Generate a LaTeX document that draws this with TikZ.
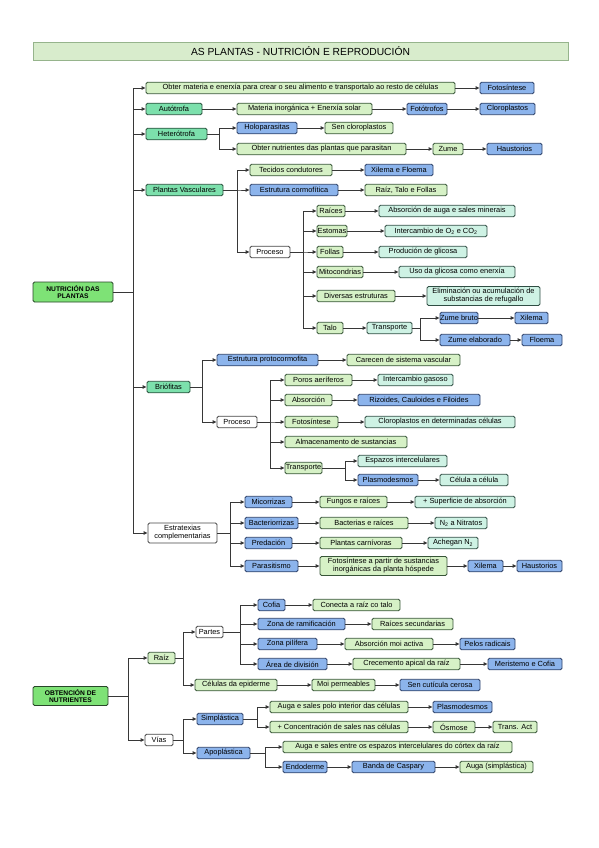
\documentclass[tikz,border=0pt]{standalone}
\usepackage{fontspec}
\setmainfont{Liberation Sans}
\usetikzlibrary{arrows.meta}
\definecolor{lgF}{RGB}{214,241,198}
\definecolor{lgD}{RGB}{55,85,55}
\definecolor{mtF}{RGB}{206,242,228}
\definecolor{mtD}{RGB}{48,78,68}
\definecolor{mdF}{RGB}{124,224,172}
\definecolor{mdD}{RGB}{40,80,60}
\definecolor{blF}{RGB}{140,180,236}
\definecolor{blD}{RGB}{45,65,105}
\definecolor{whD}{RGB}{70,70,70}
\definecolor{rtF}{RGB}{126,226,118}
\definecolor{rtD}{RGB}{40,70,40}
\definecolor{tiF}{RGB}{216,236,204}
\definecolor{tiD}{RGB}{150,180,140}
\definecolor{lnC}{RGB}{55,55,55}
\tikzset{
 box/.style={draw, rounded corners=1.5pt, line width=0.9pt, inner sep=0pt, font=\fontsize{7.4}{8}\selectfont, align=center},
 lg/.style={box, fill=lgF, draw=lgD},
 mt/.style={box, fill=mtF, draw=mtD},
 md/.style={box, fill=mdF, draw=mdD},
 bl/.style={box, fill=blF, draw=blD},
 wh/.style={box, fill=white, draw=whD},
 rt/.style={box, fill=rtF, draw=rtD, font=\bfseries\fontsize{6.7}{7.6}\selectfont},
 titlebox/.style={draw=tiD, fill=tiF, line width=0.8pt, inner sep=0pt, font=\fontsize{10.3}{12}\selectfont},
 arr/.style={draw=lnC, line width=0.9pt, -{Triangle[length=4pt,width=3.6pt]}},
}
\newcommand{\bx}[7][11.5]{\node[#3, minimum width={(#5-#4)*1pt}, minimum height=#1pt] (#2) at ({(#4+#5)/2},#6) {#7};}
\newcommand{\hh}[2]{\draw[arr] (#1.east) -- (#2.west);}
\newcommand{\tr}[3]{\coordinate (tmpb) at (#2,0); \draw[arr] (#1.east) -- (#1.east -| tmpb) |- (#3.west);}
\begin{document}
\begin{tikzpicture}[x=1pt,y=-1pt]
\useasboundingbox (0,0) rectangle (599,848);
\node[titlebox, minimum width=535pt, minimum height=18pt] (T) at (300.5,51.5) {AS PLANTAS - NUTRICIÓN E REPRODUCIÓN};
% ---------- NUTRICION
\bx[20]{N0}{rt}{33}{113}{292}{NUTRICIÓN DAS\\PLANTAS}
\bx{a1}{lg}{146}{455}{88}{Obter materia e enerxía para crear o seu alimento e transportalo ao resto de células}
\bx{a1f}{bl}{480}{534}{88}{Fotosíntese}
\bx{a2}{md}{146}{202}{109}{Autótrofa}
\bx{a2a}{lg}{237}{372}{109}{Materia inorgánica + Enerxía solar}
\bx{a2b}{bl}{407}{447}{109}{Fotótrofos}
\bx{a2c}{bl}{480}{535}{109}{Cloroplastos}
\bx{a3}{md}{146}{207}{134}{Heterótrofa}
\bx{a3a}{bl}{237}{297}{128}{Holoparasitas}
\bx{a3b}{lg}{325}{393}{128}{Sen cloroplastos}
\bx{a3c}{lg}{237}{406}{149}{Obter nutrientes das plantas que parasitan}
\bx{a3d}{lg}{433}{463}{149}{Zume}
\bx{a3e}{bl}{487}{542}{149}{Haustorios}
\bx{a4}{md}{146}{223}{190}{Plantas Vasculares}
\bx{a4a}{lg}{250}{332}{170}{Tecidos condutores}
\bx{a4b}{bl}{365}{433}{170}{Xilema e Floema}
\bx{a4c}{bl}{250}{338}{190}{Estrutura cormofítica}
\bx{a4d}{lg}{365}{447}{190}{Raíz, Talo e Follas}
\bx{a4e}{wh}{250}{290}{252}{Proceso}
\bx{p1}{lg}{317}{345}{211}{Raíces}
\bx{p1a}{mt}{379}{515}{211}{Absorción de auga e sales minerais}
\bx{p2}{lg}{317}{347}{231}{Estomas}
\bx{p2a}{mt}{385}{487}{231}{Intercambio de O\textsubscript{2} e CO\textsubscript{2}}
\bx{p3}{lg}{317}{343}{252}{Follas}
\bx{p3a}{mt}{379}{467}{252}{Produción de glicosa}
\bx{p4}{lg}{317}{363}{272}{Mitocondrias}
\bx{p4a}{mt}{399}{515}{272}{Uso da glicosa como enerxía}
\bx{p5}{lg}{317}{395}{296}{Diversas estruturas}
\bx[19]{p5a}{mt}{427}{540}{296}{Eliminación ou acumulación de\\substancias de refugallo}
\bx{p6}{lg}{317}{343}{328}{Talo}
\bx{p6a}{mt}{367}{412}{328}{Transporte}
\bx{t1}{bl}{440}{478}{318}{Zume bruto}
\bx{t1a}{bl}{515}{548}{318}{Xilema}
\bx{t2}{bl}{440}{510}{340}{Zume elaborado}
\bx{t2a}{bl}{522}{562}{340}{Floema}
\bx{a5}{md}{147}{190}{387}{Briófitas}
\bx{b1}{bl}{217}{318}{360}{Estrutura protocormofita}
\bx{b1a}{lg}{347}{460}{360}{Carecen de sistema vascular}
\bx{b2}{wh}{217}{257}{422}{Proceso}
\bx{b21}{lg}{285}{352}{380}{Poros aeríferos}
\bx{b21a}{mt}{378}{453}{380}{Intercambio gasoso}
\bx{b22}{lg}{285}{332}{400}{Absorción}
\bx{b22a}{bl}{358}{480}{400}{Rizoides, Cauloides e Filoides}
\bx{b23}{lg}{285}{338}{422}{Fotosíntese}
\bx{b23a}{mt}{365}{515}{422}{Cloroplastos en determinadas células}
\bx{b24}{lg}{285}{407}{442}{Almacenamento de sustancias}
\bx{b25}{lg}{285}{322}{468}{Transporte}
\bx{b25a}{mt}{358}{447}{461}{Espazos intercelulares}
\bx{b25b}{bl}{358}{418}{480}{Plasmodesmos}
\bx{b25c}{mt}{440}{508}{480}{Célula a célula}
\bx[20]{a6}{wh}{148}{217}{533}{Estratexias\\complementarias}
\bx{e1}{bl}{245}{292}{502}{Micorrizas}
\bx{e1a}{lg}{320}{387}{502}{Fungos e raíces}
\bx{e1b}{mt}{415}{515}{502}{+ Superficie de absorción}
\bx{e2}{bl}{245}{298}{523}{Bacteriorrizas}
\bx{e2a}{lg}{320}{408}{523}{Bacterias e raíces}
\bx{e2b}{mt}{435}{487}{523}{N\textsubscript{2} a Nitratos}
\bx{e3}{bl}{245}{292}{543}{Predación}
\bx{e3a}{lg}{320}{402}{543}{Plantas carnívoras}
\bx{e3b}{mt}{428}{478}{543}{Achegan N\textsubscript{2}}
\bx{e4}{bl}{245}{298}{566}{Parasitismo}
\bx[19]{e4a}{lg}{320}{447}{566}{Fotosíntese a partir de sustancias\\inorgánicas da planta hóspede}
\bx{e4b}{bl}{468}{503}{566}{Xilema}
\bx{e4c}{bl}{517}{562}{566}{Haustorios}
% connectors
\tr{N0}{133}{a1} \tr{N0}{133}{a2} \tr{N0}{133}{a3} \tr{N0}{133}{a4} \tr{N0}{133}{a5} \tr{N0}{133}{a6}
\hh{a1}{a1f} \hh{a2}{a2a} \hh{a2a}{a2b} \hh{a2b}{a2c}
\tr{a3}{219}{a3a} \tr{a3}{219}{a3c} \hh{a3a}{a3b} \hh{a3c}{a3d} \hh{a3d}{a3e}
\tr{a4}{237}{a4a} \tr{a4}{237}{a4c} \tr{a4}{237}{a4e} \hh{a4a}{a4b} \hh{a4c}{a4d}
\tr{a4e}{303}{p1} \tr{a4e}{303}{p2} \tr{a4e}{303}{p3} \tr{a4e}{303}{p4} \tr{a4e}{303}{p5} \tr{a4e}{303}{p6}
\hh{p1}{p1a} \hh{p2}{p2a} \hh{p3}{p3a} \hh{p4}{p4a} \hh{p5}{p5a} \hh{p6}{p6a}
\tr{p6a}{420}{t1} \tr{p6a}{420}{t2} \hh{t1}{t1a} \hh{t2}{t2a}
\tr{a5}{202}{b1} \tr{a5}{202}{b2} \hh{b1}{b1a}
\tr{b2}{270}{b21} \tr{b2}{270}{b22} \tr{b2}{270}{b23} \tr{b2}{270}{b24} \tr{b2}{270}{b25}
\hh{b21}{b21a} \hh{b22}{b22a} \hh{b23}{b23a}
\tr{b25}{345}{b25a} \tr{b25}{345}{b25b} \hh{b25b}{b25c}
\tr{a6}{230}{e1} \tr{a6}{230}{e2} \tr{a6}{230}{e3} \tr{a6}{230}{e4}
\hh{e1}{e1a} \hh{e1a}{e1b} \hh{e2}{e2a} \hh{e2a}{e2b} \hh{e3}{e3a} \hh{e3a}{e3b}
\hh{e4}{e4a} \hh{e4a}{e4b} \hh{e4b}{e4c}
% ---------- OBTENCION
\bx[19]{N1}{rt}{33}{108}{696}{OBTENCIÓN DE\\NUTRIENTES}
\bx{r1}{lg}{148}{175}{658}{Raíz}
\bx{r1a}{wh}{196}{223}{632}{Partes}
\bx{c1}{bl}{258}{285}{605}{Cofia}
\bx{c1a}{lg}{313}{400}{605}{Conecta a raíz co talo}
\bx{c2}{bl}{258}{345}{624}{Zona de ramificación}
\bx{c2a}{lg}{372}{453}{624}{Raíces secundarias}
\bx{c3}{bl}{258}{317}{644}{Zona pilífera}
\bx{c3a}{lg}{345}{433}{644}{Absorción moi activa}
\bx{c3b}{bl}{460}{515}{644}{Pelos radicais}
\bx{c4}{bl}{258}{327}{664}{Área de división}
\bx{c4a}{lg}{353}{460}{664}{Crecemento apical da raíz}
\bx{c4b}{bl}{488}{562}{664}{Meristemo e Cofia}
\bx{r1b}{lg}{195}{277}{685}{Células da epiderme}
\bx{r1c}{lg}{312}{375}{685}{Moi permeables}
\bx{r1d}{bl}{400}{480}{685}{Sen cutícula cerosa}
\bx{r2}{wh}{145}{173}{740}{Vías}
\bx{s1}{bl}{197}{243}{719}{Simplástica}
\bx{s1a}{lg}{270}{408}{707}{Auga e sales polo interior das células}
\bx{s1b}{bl}{433}{492}{707}{Plasmodesmos}
\bx{s1c}{lg}{270}{408}{727}{+ Concentración de sales nas células}
\bx{s1d}{lg}{433}{475}{727}{Ósmose}
\bx{s1e}{lg}{493}{537}{727}{Trans. Act}
\bx{s2}{bl}{197}{250}{753}{Apoplástica}
\bx{s2a}{lg}{283}{512}{747}{Auga e sales entre os espazos intercelulares do córtex da raíz}
\bx{s2b}{bl}{283}{327}{767}{Endoderme}
\bx{s2c}{bl}{352}{435}{767}{Banda de Caspary}
\bx{s2d}{lg}{460}{533}{767}{Auga (simplástica)}
\tr{N1}{128}{r1} \tr{N1}{128}{r2}
\tr{r1}{183}{r1a} \tr{r1}{183}{r1b}
\tr{r1a}{240}{c1} \tr{r1a}{240}{c2} \tr{r1a}{240}{c3} \tr{r1a}{240}{c4}
\hh{c1}{c1a} \hh{c2}{c2a} \hh{c3}{c3a} \hh{c3a}{c3b} \hh{c4}{c4a} \hh{c4a}{c4b}
\hh{r1b}{r1c} \hh{r1c}{r1d}
\tr{r2}{183}{s1} \tr{r2}{183}{s2}
\tr{s1}{257}{s1a} \tr{s1}{257}{s1c} \hh{s1a}{s1b} \hh{s1c}{s1d} \hh{s1d}{s1e}
\tr{s2}{265}{s2a} \tr{s2}{265}{s2b} \hh{s2b}{s2c} \hh{s2c}{s2d}
\end{tikzpicture}
\end{document}
